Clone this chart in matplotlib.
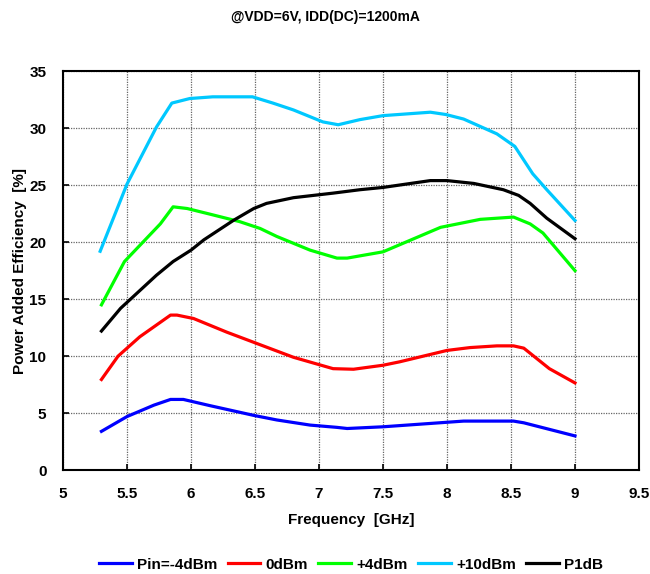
import matplotlib
matplotlib.use("Agg")
import matplotlib.pyplot as plt

plt.rcParams['font.family'] = ['Liberation Sans', 'DejaVu Sans']
plt.rcParams['font.weight'] = 'bold'

# Frequency [GHz] / PAE [%]
f_m4 = [5.3, 5.5, 5.71, 5.84, 5.94, 6.15, 6.49, 6.67, 6.93, 7.14, 7.22, 7.5, 8.13, 8.52, 8.6, 9.0]
pae_m4 = [3.4, 4.7, 5.7, 6.2, 6.2, 5.65, 4.8, 4.4, 3.95, 3.75, 3.65, 3.8, 4.3, 4.3, 4.15, 3.0]

f_0 = [5.3, 5.43, 5.6, 5.84, 5.89, 6.02, 6.28, 6.54, 6.8, 7.11, 7.27, 7.5, 7.63, 8.0, 8.18, 8.39, 8.52, 8.6, 8.8, 9.0]
pae_0 = [7.95, 10.0, 11.7, 13.6, 13.6, 13.3, 12.1, 11.0, 9.9, 8.9, 8.85, 9.2, 9.5, 10.5, 10.75, 10.9, 10.9, 10.7, 8.9, 7.65]

f_4 = [5.3, 5.48, 5.76, 5.86, 5.97, 6.15, 6.38, 6.54, 6.67, 6.93, 7.14, 7.22, 7.5, 7.95, 8.26, 8.52, 8.65, 8.75, 9.0]
pae_4 = [14.5, 18.3, 21.6, 23.1, 22.95, 22.45, 21.8, 21.2, 20.5, 19.3, 18.6, 18.6, 19.15, 21.3, 22.0, 22.2, 21.6, 20.8, 17.5]

f_10 = [5.29, 5.5, 5.73, 5.85, 5.99, 6.17, 6.48, 6.64, 6.8, 7.03, 7.15, 7.32, 7.5, 7.87, 7.99, 8.13, 8.39, 8.53, 8.67, 8.78, 9.0]
pae_10 = [19.2, 25.1, 30.1, 32.2, 32.6, 32.75, 32.75, 32.2, 31.6, 30.55, 30.3, 30.75, 31.1, 31.4, 31.2, 30.8, 29.5, 28.4, 26.0, 24.6, 21.9]

f_p1 = [5.3, 5.45, 5.73, 5.86, 6.0, 6.1, 6.33, 6.49, 6.59, 6.8, 7.11, 7.32, 7.5, 7.87, 8.0, 8.21, 8.44, 8.56, 8.65, 8.78, 9.0]
pae_p1 = [12.2, 14.2, 17.1, 18.3, 19.3, 20.2, 21.9, 22.95, 23.4, 23.9, 24.3, 24.6, 24.8, 25.4, 25.4, 25.15, 24.6, 24.1, 23.4, 22.1, 20.3]

fig = plt.figure(figsize=(6.5, 5.74), dpi=100)
ax = fig.add_axes([0.097, 0.181, 0.886, 0.695])

lw = 2.3
ax.plot(f_m4, pae_m4, color='#0000FF', lw=lw, label='Pin=-4dBm')
ax.plot(f_0, pae_0, color='#FF0000', lw=lw, label='0dBm')
ax.plot(f_4, pae_4, color='#00FF00', lw=lw, label='+4dBm')
ax.plot(f_10, pae_10, color='#00C8FF', lw=lw, label='+10dBm')
ax.plot(f_p1, pae_p1, color='#000000', lw=lw, label='P1dB')

ax.set_xlim(5, 9.5)
ax.set_ylim(0, 35)
ax.set_xticks([5, 5.5, 6, 6.5, 7, 7.5, 8, 8.5, 9, 9.5])
ax.set_xticklabels(['5', '5.5', '6', '6.5', '7', '7.5', '8', '8.5', '9', '9.5'])
ax.set_yticks(range(0, 36, 5))
ax.grid(True, color='#666666', linestyle=(0, (1, 1)), linewidth=0.9)
ax.tick_params(direction='in', length=4, width=1.2, labelsize=11, pad=12)
for s in ax.spines.values():
    s.set_linewidth(1.5)

ax.set_xlabel('Frequency  [GHz]', fontsize=11, fontweight='bold', labelpad=9)
ax.set_ylabel('Power Added Efficiency  [%]', fontsize=11, fontweight='bold', labelpad=2)
fig.suptitle('@VDD=6V, IDD(DC)=1200mA', fontsize=10, fontweight='bold', x=0.5, y=0.983)

fig.legend(loc='center', bbox_to_anchor=(0.54, 0.016), ncol=5, frameon=False,
           fontsize=11, handlelength=2.15, columnspacing=0.65, handletextpad=0.35)

fig.savefig('out.png', dpi=100)
